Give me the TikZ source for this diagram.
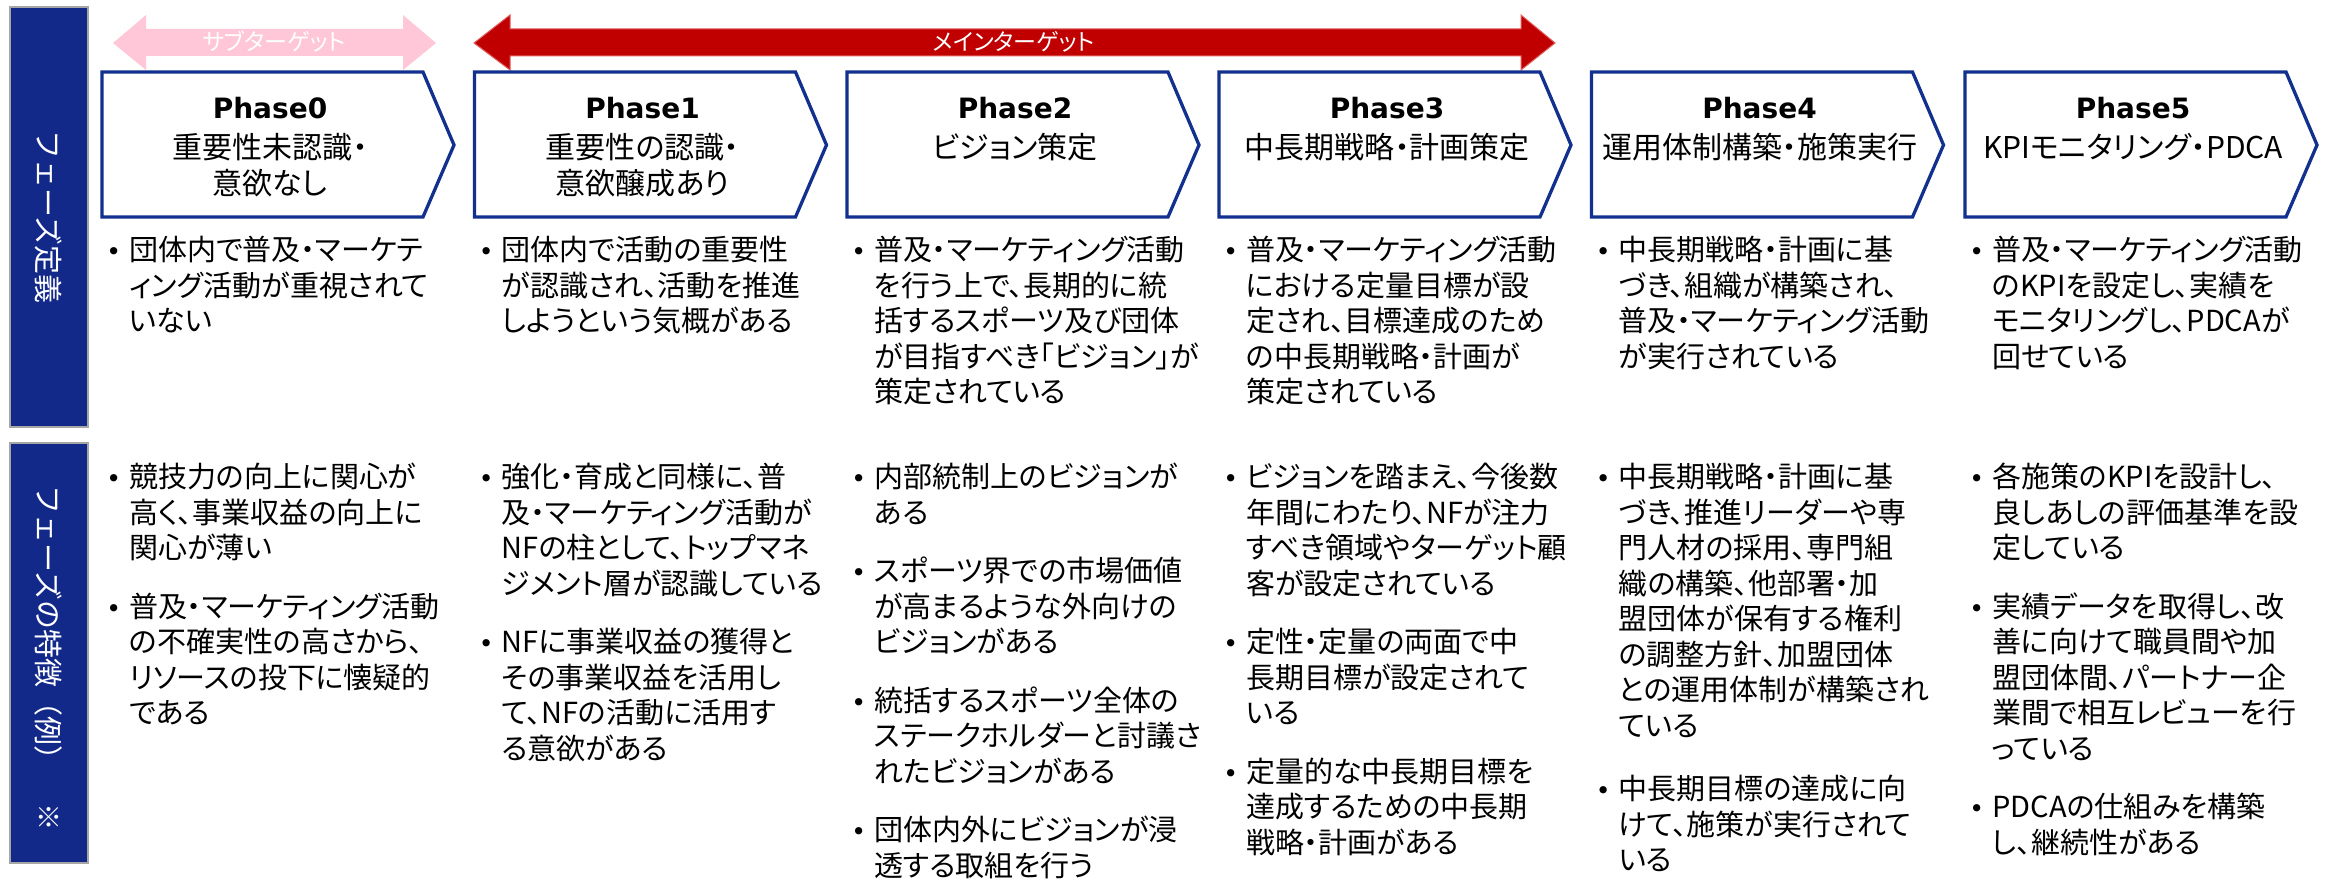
\documentclass[tikz,border=0pt]{standalone}
\usepackage{fontspec}
\setmainfont{Noto Sans CJK JP}[RawFeature={+palt}]
\newfontfamily\jpfull{Noto Sans CJK JP}
\newfontfamily\latinb{DejaVu Sans}
\newfontfamily\bulfont{DejaVu Sans}
\definecolor{navy}{RGB}{19,41,138}
\definecolor{boxblue}{RGB}{18,48,142}
\definecolor{pinkarrow}{RGB}{255,199,215}
\definecolor{redarrow}{RGB}{192,0,0}
\definecolor{rededge}{RGB}{225,95,95}
\definecolor{bargray}{RGB}{166,166,166}
\newcommand\bul{\llap{{\bulfont\fontsize{25}{25}\selectfont •}\hspace{8pt}}}
\tikzset{
  body/.style={font=\fontsize{29}{35.5}\selectfont, align=left, inner sep=0pt, anchor=north west},
  phasebox/.style={draw=boxblue, line width=3.3pt, fill=white, line join=miter},
  ptitle/.style={font=\latinb\bfseries\fontsize{28}{30}\selectfont, inner sep=0pt, anchor=center},
  psub/.style={font=\fontsize{30}{36}\selectfont, inner sep=0pt, anchor=center},
  sidebar/.style={fill=navy, draw=bargray, line width=2.5pt},
  sidetext/.style={font=\jpfull\fontsize{29}{29}\selectfont, text=white, rotate=-90, inner sep=0pt},
  arrowtext/.style={font=\fontsize{23}{23}\selectfont, text=white, inner sep=0pt},
}
\begin{document}
\begin{tikzpicture}[x=1pt,y=-1pt]
\useasboundingbox (0,0) rectangle (2333,883);
\fill[white] (0,0) rectangle (2333,883);

% side bars
\draw[sidebar] (10,7) rectangle (88,427);
\draw[sidebar] (10,443) rectangle (88,863);
\node[sidetext] (s1) at (49,217) {フェーズ定義};
\node[sidetext] (s2) at (49,630) {フェーズの特徴（例）};
\node[font=\jpfull\fontsize{27}{27}\selectfont, text=white, inner sep=0pt] (s3) at (49,817) {※};

% arrows
\fill[pinkarrow] (113,43) -- (146,15) -- (146,29) -- (403,29) -- (403,15) -- (436,43) -- (403,70) -- (403,56) -- (146,56) -- (146,70) -- cycle;
\node[arrowtext] (sub) at (274,42) {サブターゲット};
\filldraw[fill=redarrow, draw=rededge, line width=1pt] (474,43) -- (510,15) -- (510,29) -- (1521,29) -- (1521,15) -- (1555,43) -- (1521,70) -- (1521,56) -- (510,56) -- (510,70) -- cycle;
\node[arrowtext] (main) at (1014,42) {メインターゲット};

% phase boxes
\foreach \L in {102,474.5,847,1219,1591.5,1965}{
  \draw[phasebox] (\L,72) -- (\L+321,72) -- (\L+352,145) -- (\L+321,217) -- (\L,217) -- cycle;
}

% headers
\node[ptitle] (t0) at (270,108) {Phase0};
\node[psub] (u0a) at (270,147) {重要性未認識・};
\node[psub] (u0b) at (270,183) {意欲なし};
\node[ptitle] (t1) at (642.5,108) {Phase1};
\node[psub] (u1a) at (642.5,147) {重要性の認識・};
\node[psub] (u1b) at (642.5,183) {意欲醸成あり};
\node[ptitle] (t2) at (1015,108) {Phase2};
\node[psub] (u2a) at (1015,147) {ビジョン策定};
\node[ptitle] (t3) at (1387,108) {Phase3};
\node[psub] (u3a) at (1387,147) {中長期戦略・計画策定};
\node[ptitle] (t4) at (1759.5,108) {Phase4};
\node[psub] (u4a) at (1759.5,147) {運用体制構築・施策実行};
\node[ptitle] (t5) at (2133,108) {Phase5};
\node[psub] (u5a) at (2133,147) {KPIモニタリング・PDCA};

% definitions
\node[body] (d0) at (129,236) {\bul 団体内で普及・マーケテ\\ィング活動が重視されて\\いない};
\node[body] (d1) at (501.5,236) {\bul 団体内で活動の重要性\\が認識され、活動を推進\\しようという気概がある};
\node[body] (d2) at (874,236) {\bul 普及・マーケティング活動\\を行う上で、長期的に統\\括するスポーツ及び団体\\が目指すべき「ビジョン」が\\策定されている};
\node[body] (d3) at (1246,236) {\bul 普及・マーケティング活動\\における定量目標が設\\定され、目標達成のため\\の中長期戦略・計画が\\策定されている};
\node[body] (d4) at (1618.5,236) {\bul 中長期戦略・計画に基\\づき、組織が構築され、\\普及・マーケティング活動\\が実行されている};
\node[body] (d5) at (1992,236) {\bul 普及・マーケティング活動\\のKPIを設定し、実績を\\モニタリングし、PDCAが\\回せている};

% features
\node[body] (f0) at (129,463) {\bul 競技力の向上に関心が\\高く、事業収益の向上に\\関心が薄い\\[23pt]\bul 普及・マーケティング活動\\の不確実性の高さから、\\リソースの投下に懐疑的\\である};
\node[body] (f1) at (501.5,463) {\bul 強化・育成と同様に、普\\及・マーケティング活動が\\NFの柱として、トップマネ\\ジメント層が認識している\\[23pt]\bul NFに事業収益の獲得と\\その事業収益を活用し\\て、NFの活動に活用す\\る意欲がある};
\node[body] (f2) at (874,463) {\bul 内部統制上のビジョンが\\ある\\[23pt]\bul スポーツ界での市場価値\\が高まるような外向けの\\ビジョンがある\\[23pt]\bul 統括するスポーツ全体の\\ステークホルダーと討議さ\\れたビジョンがある\\[23pt]\bul 団体内外にビジョンが浸\\透する取組を行う};
\node[body] (f3) at (1246,463) {\bul ビジョンを踏まえ、今後数\\年間にわたり、NFが注力\\すべき領域やターゲット顧\\客が設定されている\\[23pt]\bul 定性・定量の両面で中\\長期目標が設定されて\\いる\\[23pt]\bul 定量的な中長期目標を\\達成するための中長期\\戦略・計画がある};
\node[body] (f4) at (1618.5,463) {\bul 中長期戦略・計画に基\\づき、推進リーダーや専\\門人材の採用、専門組\\織の構築、他部署・加\\盟団体が保有する権利\\の調整方針、加盟団体\\との運用体制が構築され\\ている\\[28pt]\bul 中長期目標の達成に向\\けて、施策が実行されて\\いる};
\node[body] (f5) at (1992,463) {\bul 各施策のKPIを設計し、\\良しあしの評価基準を設\\定している\\[23pt]\bul 実績データを取得し、改\\善に向けて職員間や加\\盟団体間、パートナー企\\業間で相互レビューを行\\っている\\[23pt]\bul PDCAの仕組みを構築\\し、継続性がある};
\end{tikzpicture}
\end{document}
